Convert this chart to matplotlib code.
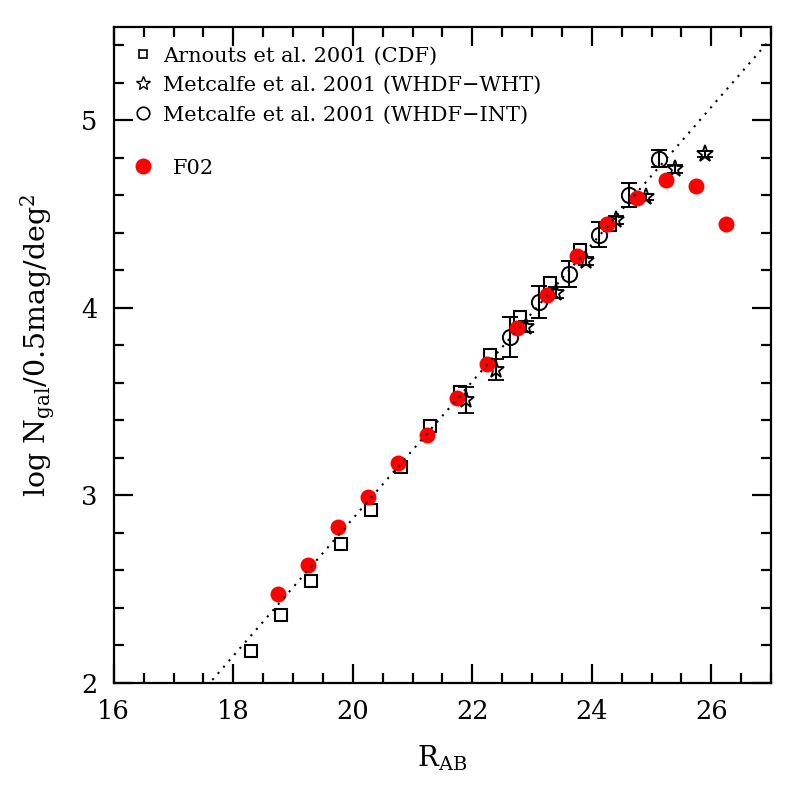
import matplotlib
matplotlib.use('Agg')
import matplotlib.pyplot as plt
from matplotlib.ticker import MultipleLocator
import numpy as np

plt.rcParams['font.family'] = ['DejaVu Serif']
plt.rcParams['mathtext.fontset'] = 'dejavuserif'

# ---- data ----
arnouts_mag = [18.3, 18.8, 19.3, 19.8, 20.3, 20.8, 21.3, 21.8, 22.3, 22.8, 23.3, 23.8, 24.3]
arnouts_logn = [2.17, 2.36, 2.54, 2.74, 2.92, 3.15, 3.37, 3.55, 3.75, 3.95, 4.13, 4.31, 4.44]

wht_mag = [21.9, 22.4, 22.9, 23.4, 23.9, 24.4, 24.9, 25.4, 25.9]
wht_logn = [3.51, 3.67, 3.90, 4.08, 4.25, 4.47, 4.59, 4.74, 4.82]
wht_err = [0.07, 0.055, 0.03, 0.03, 0.02, 0.02, 0.015, 0.02, 0.015]

int_mag = [22.63, 23.12, 23.62, 24.12, 24.62, 25.12]
int_logn = [3.845, 4.03, 4.18, 4.39, 4.60, 4.795]
int_err = [0.107, 0.084, 0.07, 0.068, 0.064, 0.046]

f02_mag = [18.75, 19.25, 19.75, 20.25, 20.75, 21.25, 21.75, 22.25, 22.75, 23.25,
           23.75, 24.25, 24.75, 25.25, 25.75, 26.25]
f02_logn = [2.473, 2.63, 2.83, 2.99, 3.171, 3.322, 3.52, 3.70, 3.89, 4.071,
            4.278, 4.449, 4.588, 4.68, 4.65, 4.449]

line_slope = 0.366
line_intercept = -4.445

legend_labels = ['Arnouts et al. 2001 (CDF)',
                 'Metcalfe et al. 2001 (WHDF\u2212WHT)',
                 'Metcalfe et al. 2001 (WHDF\u2212INT)',
                 'F02']

# ---- figure ----
fig = plt.figure(figsize=(7.97, 7.97), dpi=100)
ax = fig.add_axes([0.1428, 0.1434, 0.8246, 0.8231])

ax.plot(arnouts_mag, arnouts_logn, 's', ms=8, mfc='none', mec='black', mew=1.5, zorder=3)
ax.errorbar(wht_mag, wht_logn, yerr=wht_err, fmt='*', ms=12.5, mfc='none', mec='black',
            mew=1.3, ecolor='black', elinewidth=1.5, capsize=5.5, capthick=1.5, zorder=3)
ax.errorbar(int_mag, int_logn, yerr=int_err, fmt='o', ms=11, mfc='none', mec='black',
            mew=1.4, ecolor='black', elinewidth=1.5, capsize=5.5, capthick=1.5, zorder=3)
ax.plot(f02_mag, f02_logn, 'o', ms=11.5, color='red', mec='none', zorder=4)

xx = np.array([16.0, 27.0])
ax.plot(xx, line_slope * xx + line_intercept, ls=(0, (1, 3)), color='black', lw=1.5, zorder=5)

ax.set_xlim(16, 27)
ax.set_ylim(2, 5.5)
ax.xaxis.set_major_locator(MultipleLocator(2))
ax.xaxis.set_minor_locator(MultipleLocator(0.5))
ax.yaxis.set_major_locator(MultipleLocator(1))
ax.yaxis.set_minor_locator(MultipleLocator(0.2))
ax.tick_params(which='both', direction='in', top=True, right=True, width=1.6,
               labelsize=18.5, pad=12)
ax.tick_params(which='major', length=14)
ax.tick_params(which='minor', length=7)
for s in ax.spines.values():
    s.set_linewidth(1.6)

ax.set_xlabel(r'R$_{\rm AB}$', fontsize=20, labelpad=14)
ax.set_ylabel(r'log N$_{\rm gal}$/0.5mag/deg$^2$', fontsize=20.5)
ax.yaxis.set_label_coords(-0.086, 0.515)

# legend (manual, axes coordinates)
lx, tx = 0.0449, 0.0744
ax.plot([lx], [0.958], 's', ms=6, mfc='none', mec='black', mew=1.2, transform=ax.transAxes, clip_on=False)
ax.plot([lx], [0.914], '*', ms=10, mfc='none', mec='black', mew=1.0, transform=ax.transAxes, clip_on=False)
ax.plot([lx], [0.868], 'o', ms=9, mfc='none', mec='black', mew=1.2, transform=ax.transAxes, clip_on=False)
ax.plot([lx], [0.787], 'o', ms=11.5, color='red', mec='none', transform=ax.transAxes, clip_on=False)
for yy, lab in zip([0.958, 0.914, 0.868], legend_labels[:3]):
    ax.text(tx, yy, lab, transform=ax.transAxes, fontsize=15, va='center_baseline', ha='left')
ax.text(0.0905, 0.787, legend_labels[3], transform=ax.transAxes, fontsize=15,
        va='center_baseline', ha='left')

fig.savefig('out.png', dpi=100)
